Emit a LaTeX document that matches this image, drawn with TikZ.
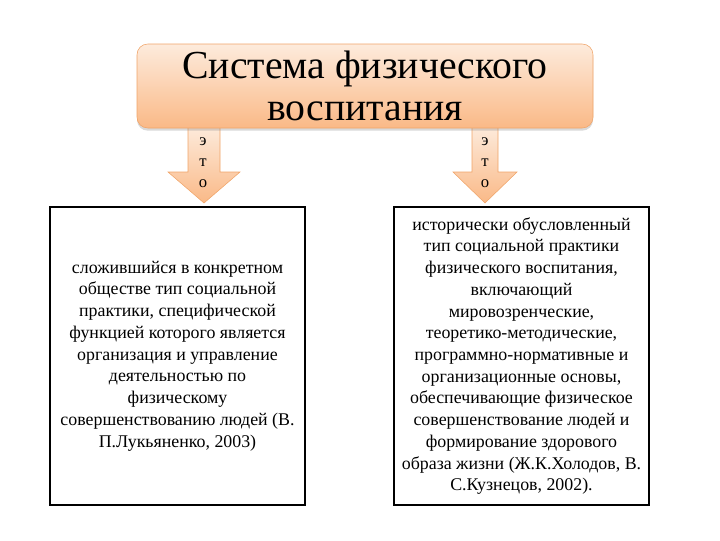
\documentclass[tikz,border=0pt]{standalone}
\usepackage{fontspec}
\setmainfont{Liberation Serif}
\usetikzlibrary{shadows}
\definecolor{peachtop}{HTML}{FDEBDC}
\definecolor{peachbot}{HTML}{FAB987}
\definecolor{peachline}{HTML}{F0A468}

\begin{document}
\begin{tikzpicture}[x=0.75pt,y=-0.75pt,
  title node/.style={rectangle, rounded corners=8pt, draw=peachline,
  top color=peachtop, bottom color=peachbot, minimum width=342pt,
  minimum height=63pt, align=center, font=\fontsize{29.8}{31.5}\selectfont,
  drop shadow={shadow xshift=0pt, shadow yshift=-2pt, opacity=0.3}},
  def box/.style={rectangle, draw, line width=1.9pt, minimum width=191pt,
  minimum height=223.5pt, align=center, font=\fontsize{13.4}{16.3}\selectfont},
  eto/.style={align=center, font=\fontsize{12.5}{15.75}\selectfont},
  block arrow/.style={draw=peachline, top color=peachtop, bottom color=peachbot}]
  \useasboundingbox (0,0) rectangle (720,540);

  % block arrows under the title
  \path[block arrow] (188,126) -- (220,126) -- (220,172) -- (240,172)
     -- (204,203) -- (168,172) -- (188,172) -- cycle;
  \path[block arrow] (472,126) -- (498,126) -- (498,172) -- (517,172)
     -- (485,203) -- (453,172) -- (472,172) -- cycle;

  \node[title node] (TITLE) at (365,86) {Система физического\\воспитания};

  \node[eto] (ETO1) at (203,163) {э\\т\\о};
  \node[eto] (ETO2) at (485,163) {э\\т\\о};

  \node[def box] (DEF1) at (177.5,356) {сложившийся в конкретном\\
    обществе тип социальной\\практики, специфической\\
    функцией которого является\\организация и управление\\
    деятельностью по\\физическому\\совершенствованию людей (В.\\
    П.Лукьяненко, 2003)};
  \node[def box] (DEF2) at (521.5,356) {исторически обусловленный\\
    тип социальной практики\\физического воспитания,\\включающий\\
    мировозренческие,\\теоретико-методические,\\
    программно-нормативные и\\организационные основы,\\
    обеспечивающие физическое\\совершенствование людей и\\
    формирование здорового\\образа жизни (Ж.К.Холодов, В.\\
    С.Кузнецов, 2002).};
\end{tikzpicture}
\end{document}
